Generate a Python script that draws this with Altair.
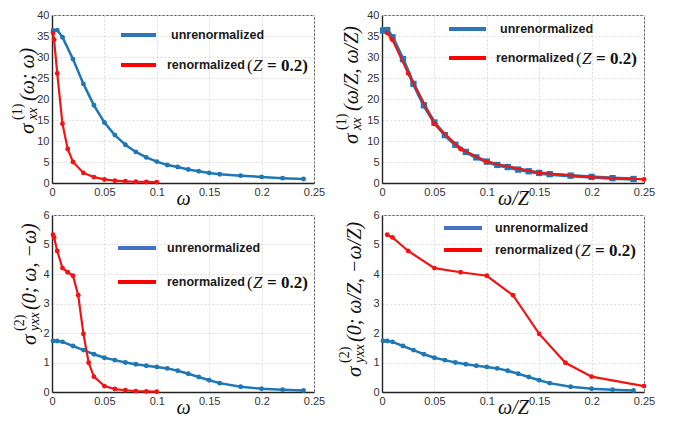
import altair as alt
import pandas as pd

# ---------------- data ----------------
Z = 0.2
omega_unren = [0.001, 0.005, 0.01, 0.02, 0.03, 0.04, 0.05, 0.06, 0.07, 0.08, 0.09,
               0.10, 0.11, 0.12, 0.13, 0.14, 0.15, 0.16, 0.18, 0.20, 0.22, 0.24]
s1_unren = [36.3, 36.4, 34.7, 29.5, 23.6, 18.5, 14.4, 11.4, 9.1, 7.4, 6.1,
            5.1, 4.3, 3.8, 3.2, 2.8, 2.4, 2.1, 1.75, 1.45, 1.15, 0.95]
s2_unren = [1.73, 1.73, 1.70, 1.56, 1.42, 1.28, 1.16, 1.08, 1.00, 0.94, 0.89,
            0.85, 0.80, 0.72, 0.62, 0.51, 0.40, 0.30, 0.18, 0.11, 0.08, 0.05]

omega_ren1 = [0.001, 0.002, 0.005, 0.01, 0.015, 0.02, 0.03, 0.04, 0.05,
              0.06, 0.07, 0.08, 0.09, 0.10]
s1_ren = [35.7, 34.1, 26.1, 14.1, 8.1, 5.0, 2.4, 1.4, 0.85,
          0.55, 0.40, 0.30, 0.25, 0.20]

omega_ren2 = [0.001, 0.002, 0.005, 0.01, 0.015, 0.02, 0.025, 0.03, 0.035, 0.04,
              0.05, 0.06, 0.07, 0.08, 0.09, 0.10]
s2_ren = [5.33, 5.24, 4.78, 4.20, 4.06, 3.94, 3.28, 1.97, 0.99, 0.52,
          0.20, 0.10, 0.06, 0.03, 0.02, 0.01]

x_ticks = [0, 0.05, 0.1, 0.15, 0.2, 0.25]
y1_ticks = [0, 5, 10, 15, 20, 25, 30, 35, 40]
y2_ticks = [0, 1, 2, 3, 4, 5, 6]

legend_labels = ["unrenormalized", "renormalized"]

BLUE = "#1f77b4"
RED = "#f01515"
LEG_BLUE_TOP = "#2e75b6"
LEG_BLUE_BOT = "#4472c4"
SERIF = "Liberation Serif"
SANS = "Liberation Sans"

one = pd.DataFrame({"a": [0]})


def df_of(omega, vals, scale, xmax=0.2501):
    xs = [w / scale for w in omega]
    return pd.DataFrame({"x": [a for a in xs if a <= xmax],
                         "y": [v for a, v in zip(xs, vals) if a <= xmax]})


def txt(x, y, s, size, font=SERIF, style="normal", weight="normal",
        angle=0, align="left", baseline="alphabetic", color="#111"):
    return alt.Chart(one).mark_text(
        align=align, baseline=baseline, font=font, fontSize=size,
        fontStyle=style, fontWeight=weight, angle=angle, color=color
    ).encode(x=alt.value(x), y=alt.value(y), text=alt.value(s))


def panel(blue_df, red_df, ydom, yticks, xtitle, ytitle, leg, w, h,
          blue_square=False, leg_blue=LEG_BLUE_TOP):
    xs = alt.Scale(domain=[0, 0.25], nice=False)
    ys = alt.Scale(domain=ydom, nice=False)
    xax = alt.Axis(values=x_ticks, format="~g", title=xtitle, titleY=21,
                   titleBaseline="alphabetic")
    yax = alt.Axis(values=yticks, format="~g", title=None)
    X = alt.X("x:Q", scale=xs, axis=xax)
    Y = alt.Y("y:Q", scale=ys, axis=yax)

    bw = 3.5 if blue_square else 2.5
    blue_line = alt.Chart(blue_df).mark_line(color=BLUE, strokeWidth=bw).encode(x=X, y=Y)
    if blue_square:
        blue_pts = alt.Chart(blue_df).mark_square(color=BLUE, size=40, opacity=1).encode(x=X, y=Y)
    else:
        blue_pts = alt.Chart(blue_df).mark_circle(color=BLUE, size=24, opacity=1).encode(x=X, y=Y)
    red_line = alt.Chart(red_df).mark_line(color=RED, strokeWidth=2.2).encode(x=X, y=Y)
    red_pts = alt.Chart(red_df).mark_circle(color=RED, size=24, opacity=1).encode(x=X, y=Y)

    # legend
    lx1, lx2, ly1, ly2, tx1, tx2 = leg
    layers = [blue_line, blue_pts, red_line, red_pts]
    layers.append(alt.Chart(one).mark_rule(color=leg_blue, strokeWidth=4).encode(
        x=alt.value(lx1), x2=alt.value(lx2), y=alt.value(ly1)))
    layers.append(alt.Chart(one).mark_rule(color="#ff0000", strokeWidth=4).encode(
        x=alt.value(lx1), x2=alt.value(lx2), y=alt.value(ly2)))
    layers.append(txt(tx1, ly1, legend_labels[0], 12.5, font=SANS, weight="bold",
                      baseline="middle", color="#1a1a1a"))
    layers.append(txt(tx2, ly2, legend_labels[1], 12.5, font=SANS, weight="bold",
                      baseline="middle", color="#1a1a1a"))
    layers.append(txt(tx2 + 80, ly2 + 6, "(", 17))
    layers.append(txt(tx2 + 86, ly2 + 6, "Z", 17, style="italic"))
    layers.append(txt(tx2 + 100, ly2 + 6, "= 0.2)", 17, weight="bold"))

    # y title: sigma with stacked super/subscripts (positions from plot bottom)
    bx, d0, dsub, drest, sup, sub, rest = ytitle
    layers.append(txt(bx, h - d0, "σ", 21, style="italic", angle=270))
    layers.append(txt(bx - 12, h - dsub, sup, 14, angle=270))
    layers.append(txt(bx + 3, h - dsub, sub, 14, style="italic", angle=270))
    layers.append(txt(bx, h - drest, rest, 20, style="italic", angle=270))

    return alt.layer(*layers).properties(width=w, height=h)


blue1 = df_of(omega_unren, s1_unren, 1.0)
blue2 = df_of(omega_unren, s2_unren, 1.0)

tl = panel(blue1, df_of(omega_ren1, s1_ren, 1.0), [0, 40], y1_ticks, "ω",
           (-18, 49, 63, 82, "(1)", "xx", "(ω; ω)"),
           (69, 104, 20, 50, 119, 115), 262, 168)
tr = panel(blue1, df_of(omega_ren1, s1_ren, Z), [0, 40], y1_ticks, "ω/Z",
           (-24, 39, 53, 72, "(1)", "xx", "(ω/Z, ω/Z)"),
           (67, 104, 14, 43, 118, 114), 262, 168, blue_square=True)
bl = panel(blue2, df_of(omega_ren2, s2_ren, 1.0), [0, 6], y2_ticks, "ω",
           (-16, 47, 61, 82, "(2)", "yxx", "(0; ω, −ω)"),
           (66, 104, 33, 67, 115, 115), 262, 177, leg_blue=LEG_BLUE_BOT)
br = panel(blue2, df_of(omega_ren2, s2_ren, Z), [0, 6], y2_ticks, "ω/Z",
           (-21, 15, 29, 50, "(2)", "yxx", "(0; ω/Z, −ω/Z)"),
           (62, 100, 13, 35, 113, 113), 262, 177, leg_blue=LEG_BLUE_BOT)

chart = alt.concat(tl, tr, bl, br, columns=2,
                   spacing={"row": 32, "column": 68}, bounds="flush").properties(
    padding={"left": 2, "top": 0, "right": 5, "bottom": 0}
).configure_view(stroke="#555", strokeWidth=1).configure_axis(
    domainColor="#222", domainWidth=1.4, ticks=False, tickSize=0,
    labelFont=SANS, labelFontSize=11, labelColor="#333", labelPadding=3,
    labelFlush=False, gridColor="#dcdcdc", gridDash=[2, 2], gridWidth=1,
    titleFont=SERIF, titleFontSize=20, titleFontStyle="italic",
    titleFontWeight="normal", titleColor="#111"
)

chart.save("out.html", embed_options={"renderer": "svg", "actions": False})
